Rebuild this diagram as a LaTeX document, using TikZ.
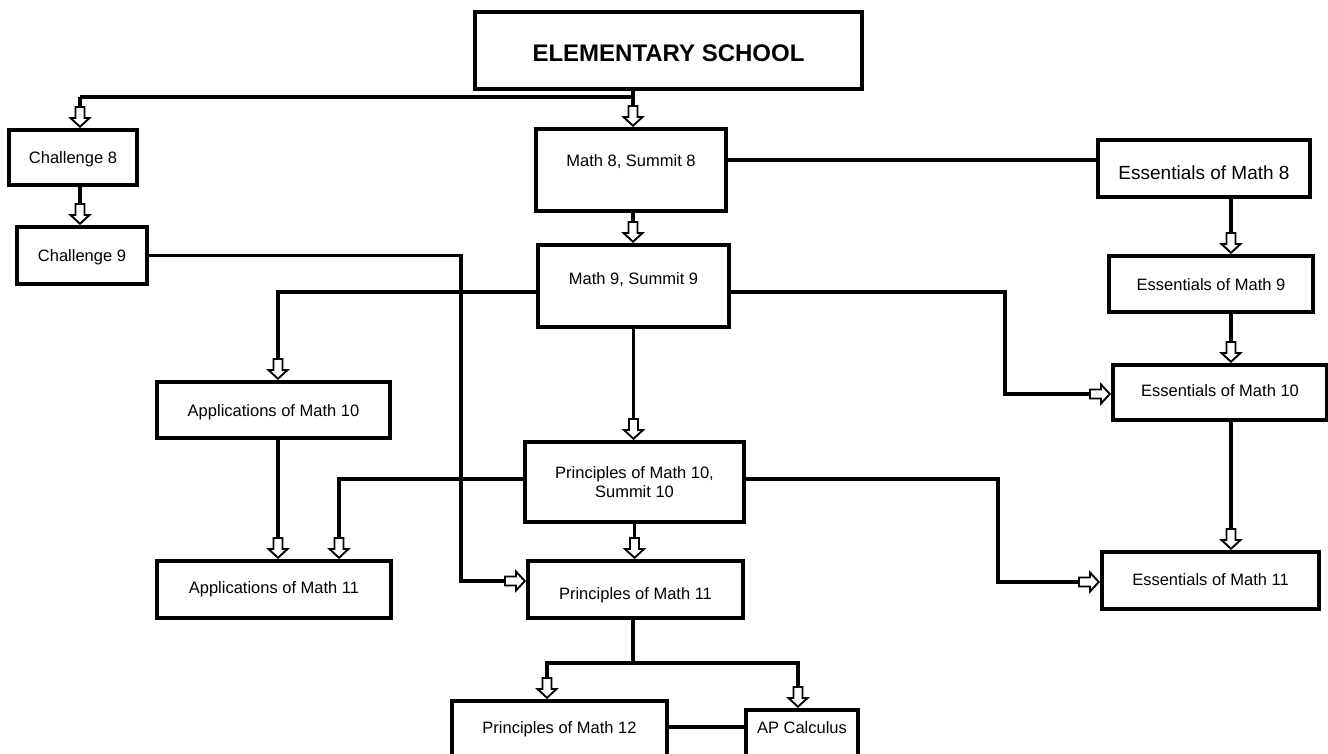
\documentclass[tikz,border=0pt]{standalone}
\usepackage{fontspec}
\setmainfont{Liberation Sans}
\usetikzlibrary{arrows.meta}

\pgfdeclarearrow{
  name = Hollow,
  setup code = {
    \pgfarrowssettipend{0pt}
    \pgfarrowssetlineend{-21pt}
    \pgfarrowssetbackend{-22pt}
    \pgfarrowshullpoint{0pt}{0pt}
    \pgfarrowshullpoint{-22pt}{10pt}
    \pgfarrowshullpoint{-22pt}{-10pt}
  },
  drawing code = {
    \pgfsetlinewidth{1.9pt}
    \pgfsetmiterjoin
    \pgfsetfillcolor{white}
    \pgfpathmoveto{\pgfqpoint{-1.2pt}{0pt}}
    \pgfpathlineto{\pgfqpoint{-10pt}{9.5pt}}
    \pgfpathlineto{\pgfqpoint{-10pt}{4.5pt}}
    \pgfpathlineto{\pgfqpoint{-21pt}{4.5pt}}
    \pgfpathlineto{\pgfqpoint{-21pt}{-4.5pt}}
    \pgfpathlineto{\pgfqpoint{-10pt}{-4.5pt}}
    \pgfpathlineto{\pgfqpoint{-10pt}{-9.5pt}}
    \pgfpathclose
    \pgfusepathqfillstroke
  }
}

\begin{document}
\begin{tikzpicture}[x=1pt, y=-1pt,
    box/.style={draw, line width=4pt, inner sep=2pt, text height=12pt, text depth=0pt,
      font=\fontsize{16.5}{19}\selectfont},
    up/.style={text depth=#1},
    down/.style={text height=#1},
    conn/.style={line width=3.4pt}]
    \useasboundingbox (0,0) rectangle (1328,753);
    \clip (0,0) rectangle (1328,753);

    \node[box, line width=4.5pt, minimum width=387, minimum height=77, text height=22pt,
      font=\bfseries\fontsize{24}{28}\selectfont] (elem) at (668.5,50.5) {ELEMENTARY SCHOOL};
    \node[box, minimum width=128, minimum height=55] (ch8) at (73,157.5) {Challenge 8};
    \node[box, minimum width=130, minimum height=57] (ch9) at (82,255.5) {Challenge 9};
    \node[box, minimum width=190, minimum height=82, up=20pt] (m8) at (631,170) {Math 8, Summit 8};
    \node[box, minimum width=191, minimum height=82, up=16pt] (m9) at (633.5,286) {Math 9, Summit 9};
    \node[box, minimum width=212, minimum height=57, down=22.6pt,
      font=\fontsize{19}{22}\selectfont] (e8) at (1204,168.5) {Essentials of Math 8};
    \node[box, minimum width=204, minimum height=56] (e9) at (1211,284) {Essentials of Math 9};
    \node[box, minimum width=214, minimum height=55, up=5pt] (e10) at (1220,392.5) {Essentials of Math 10};
    \node[box, minimum width=233, minimum height=56] (app10) at (273.5,410) {Applications of Math 10};
    \node[box, minimum width=219, minimum height=80, align=center, text height=, text depth=]
      (p10) at (634.5,482) {Principles of Math 10,\\Summit 10};
    \node[box, minimum width=234, minimum height=57, up=5pt] (app11) at (274,589.5) {Applications of Math 11};
    \node[box, minimum width=215, minimum height=57, down=19pt] (p11) at (635.5,589.5) {Principles of Math 11};
    \node[box, minimum width=217, minimum height=57, up=3pt] (e11) at (1210.5,580.5) {Essentials of Math 11};
    \node[box, minimum width=215, minimum height=70, up=18pt] (p12) at (559.5,736) {Principles of Math 12};
    \node[box, minimum width=112, minimum height=60, up=26pt] (ap) at (802,740) {AP Calculus};

    % junctions
    \coordinate (j0) at (633,97);
    \coordinate (j1) at (80,97);
    \coordinate (ecol) at (1231,0);
    \coordinate (c9) at (461,581);
    \coordinate (acol) at (278,292);
    \coordinate (pcol) at (339,479);
    \coordinate (r1) at (1005,292);
    \coordinate (r2) at (998,479);
    \coordinate (b0) at (633,663);
    \coordinate (b1) at (547,663);
    \coordinate (b2) at (798,663);

    \draw[conn] (elem.south -| j0) -- (j0) -- (j1);
    \draw[conn, -{Hollow}] (j0) -- (m8.north -| j0);
    \draw[conn, -{Hollow}] (j1) -- (ch8.north -| j1);
    \draw[conn, -{Hollow}] (ch8.south -| j1) -- (ch9.north -| j1);
    \draw[conn] ([yshift=10pt]m8.east) -- ([yshift=10pt]m8.east -| e8.west);
    \draw[conn, -{Hollow}] (m8.south -| j0) -- (m9.north -| j0);

    \draw[conn, -{Hollow}] (e8.south -| ecol) -- (e9.north -| ecol);
    \draw[conn, -{Hollow}] (e9.south -| ecol) -- (e10.north -| ecol);
    \draw[conn, -{Hollow}] (e10.south -| ecol) -- (e11.north -| ecol);

    \draw[conn, -{Hollow}] (ch9.east) -| (c9) -- (c9 -| p11.west);
    \draw[conn, -{Hollow}] ([yshift=-6pt]m9.west) -- (acol) -- (acol |- app10.north);
    \draw[conn, -{Hollow}] (app10.south -| acol) -- (app11.north -| acol);
    \draw[conn, -{Hollow}] ([yshift=-6pt]m9.east) -- (r1) |- ([yshift=-1.5pt]e10.west);
    \draw[conn, -{Hollow}] (m9.south) -- (m9.south |- p10.north);

    \draw[conn, -{Hollow}] ([yshift=3pt]p10.west) -- (pcol) -- (pcol |- app11.north);
    \draw[conn, -{Hollow}] (p10.south) -- (p10.south |- p11.north);
    \draw[conn, -{Hollow}] ([yshift=3pt]p10.east) -- (r2) |- ([yshift=-1.5pt]e11.west);

    \draw[conn] (p11.south -| b0) -- (b0);
    \draw[conn, -{Hollow}] (b0) -| (p12.north -| b1);
    \draw[conn, -{Hollow}] (b0) -| (ap.north -| b2);
    \draw[conn] ([yshift=9pt]p12.east) -- ([yshift=9pt]p12.east -| ap.west);
\end{tikzpicture}
\end{document}
